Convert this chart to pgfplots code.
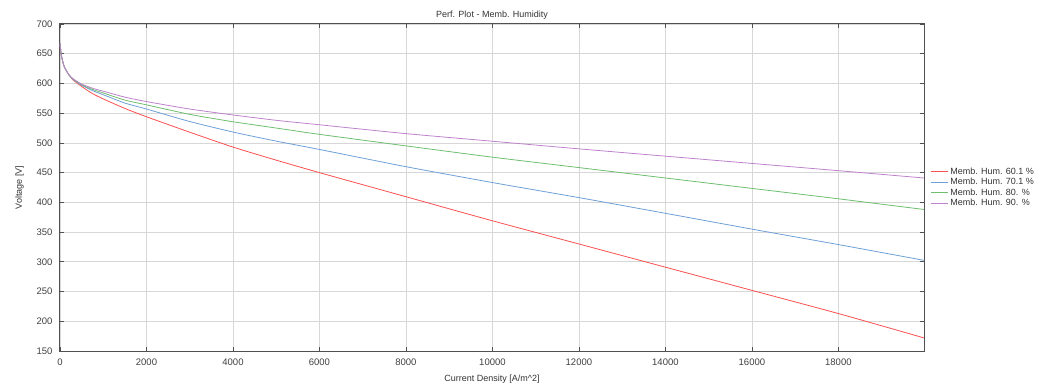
\documentclass[border=0pt]{standalone}
\usepackage{fontspec}
\setmainfont{Liberation Sans}
\usepackage{pgfplots}
\pgfplotsset{compat=1.18}
\definecolor{cred}{RGB}{250,80,80}
\definecolor{cblue}{RGB}{110,160,215}
\definecolor{cgreen}{RGB}{110,190,110}
\definecolor{cpurple}{RGB}{190,130,205}
\definecolor{gridc}{RGB}{215,215,215}
\definecolor{axc}{RGB}{80,80,80}
\begin{document}
\begin{tikzpicture}[x=1pt,y=1pt]
\useasboundingbox (-60,-37) rectangle (981,351);
\begin{axis}[
  scale only axis, width=864pt, height=327pt,
  xmin=0, xmax=19980, ymin=150, ymax=700,
  xtick={0,2000,4000,6000,8000,10000,12000,14000,16000,18000},
  ytick={150,200,250,300,350,400,450,500,550,600,650,700},
  scaled x ticks=false,
  /pgf/number format/assume math mode=true,
  tick label style={font=\fontsize{9.5}{10}\selectfont, text=black!75},
  xticklabel style={yshift=-4pt,/pgf/number format/.cd,set thousands separator={},fixed},
  yticklabel style={xshift=-4pt},
  label style={font=\fontsize{9}{10}\selectfont, text=black!80},
  title style={font=\fontsize{9}{10}\selectfont, text=black!80, yshift=-5pt},
  title={Perf. Plot - Memb. Humidity},
  xlabel={Current Density [A/m\textasciicircum 2]},
  ylabel={Voltage [V]},
  xlabel style={yshift=-3pt},
  ylabel style={yshift=6pt},
  grid=major, major grid style={gridc, line width=0.8pt},
  tick align=inside, major tick length=4pt,
  tick style={axc, line width=0.8pt},
  axis line style={axc, line width=1pt},
  legend style={at={(rel axis cs:1.007,0.5)}, anchor=west, draw=none, fill=none,
    font=\fontsize{9}{10}\selectfont, row sep=-1.5pt, inner sep=0pt},
  legend cell align=left,
  legend image code/.code={\draw[#1] (0pt,0pt) -- (17pt,0pt);},
  every axis plot/.append style={line width=0.8pt, smooth, tension=0.4},
  clip=true,
]
\addlegendimage{draw=cred, line width=1pt}
\addlegendentry{\textcolor{black!80}{Memb. Hum. 60.1 \%}}
\addlegendimage{draw=cblue, line width=1pt}
\addlegendentry{\textcolor{black!80}{Memb. Hum. 70.1 \%}}
\addlegendimage{draw=cgreen, line width=1pt}
\addlegendentry{\textcolor{black!80}{Memb. Hum. 80. \%}}
\addlegendimage{draw=cpurple, line width=1pt}
\addlegendentry{\textcolor{black!80}{Memb. Hum. 90. \%}}
\addplot[color=cred, no marks, forget plot] coordinates {
(0,668) (25,650) (50,641) (100,628) (200,615) (300,606) (500,595) (750,583) (1000,574) (1500,558) (2000,544) (3000,518) (4000,493) (5000,471) (6000,450) (8000,409.5) (10000,369) (12000,330) (14000,291) (16000,252) (18000,213) (19980,172)};
\addplot[color=cblue, no marks, forget plot] coordinates {
(0,668) (25,650) (50,641) (100,628) (200,615) (300,607) (500,597) (750,588) (1000,581) (1500,567) (2000,557) (3000,536) (4000,518.3) (5000,503) (6000,489) (8000,460) (10000,433.3) (12000,408) (14000,381.6) (16000,355) (18000,329) (19980,302.5)};
\addplot[color=cgreen, no marks, forget plot] coordinates {
(0,668) (25,650) (50,641) (100,628) (200,615) (300,607.5) (500,598) (750,590) (1000,584) (1500,572) (2000,564) (3000,548) (4000,535.6) (5000,525) (6000,514.4) (8000,495) (10000,476) (12000,458.5) (14000,441) (16000,423.5) (18000,406) (19980,388)};
\addplot[color=cpurple, no marks, forget plot] coordinates {
(0,668) (25,650) (50,641) (100,628) (200,615.5) (300,608) (500,599) (750,592) (1000,587) (1500,577) (2000,569.5) (3000,557) (4000,547) (5000,538) (6000,530.5) (8000,515.6) (10000,502.8) (12000,490) (14000,477.7) (16000,465.5) (18000,453.3) (19980,441)};
\end{axis}
\end{tikzpicture}
\end{document}
